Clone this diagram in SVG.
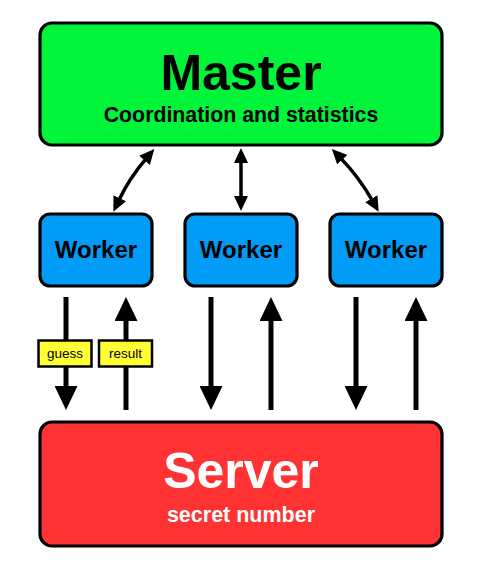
<svg xmlns="http://www.w3.org/2000/svg" width="482" height="570" viewBox="0 0 482 570">
<style>
  .box { stroke: #000; stroke-width: 3.2; }
  .t { font-family: "Liberation Sans", Arial, sans-serif; font-weight: bold; text-anchor: middle; }
  .lbl { font-family: "Liberation Sans", Arial, sans-serif; font-size: 13.5px; text-anchor: middle; fill: #000; }
  .lblbox { fill: #ffff33; stroke: #000; stroke-width: 2.5; }
  .big { fill: none; stroke: #000; stroke-width: 5; marker-end: url(#bigHead); }
  .small { fill: none; stroke: #000; stroke-width: 3.5; marker-start: url(#smallHead); marker-end: url(#smallHead); }
</style>
<defs>
  <marker id="bigHead" markerUnits="userSpaceOnUse" markerWidth="24" markerHeight="23" refX="4" refY="11.5" orient="auto">
    <path d="M0,0 L24,11.5 L0,23 z" fill="#000"/>
  </marker>
  <marker id="smallHead" markerUnits="userSpaceOnUse" markerWidth="15" markerHeight="14" refX="3" refY="7" orient="auto-start-reverse">
    <path d="M0,0 L15,7 L0,14 z" fill="#000"/>
  </marker>
</defs>
<rect width="482" height="570" fill="#fff"/>

<g id="connectors">
  <path class="small" d="M118.5,200.9 Q129.6,177.7 146.5,158.1"/>
  <path class="small" d="M241,160 L241,199"/>
  <path class="small" d="M340.2,157.6 Q359.3,177.3 372.8,201.4"/>

  <path class="big" d="M66,297 L66,390"/>
  <path class="big" d="M126,410 L126,317"/>
  <path class="big" d="M211,297 L211,390"/>
  <path class="big" d="M271,410 L271,317"/>
  <path class="big" d="M356,297 L356,390"/>
  <path class="big" d="M416,410 L416,317"/>

  <g id="label-guess">
    <rect class="lblbox" x="38.5" y="340.5" width="53" height="26"/>
    <text class="lbl" x="65" y="358">guess</text>
  </g>
  <g id="label-result">
    <rect class="lblbox" x="99" y="340.5" width="53" height="26"/>
    <text class="lbl" x="125.5" y="358">result</text>
  </g>
</g>

<g id="master">
  <rect class="box" x="40" y="23" width="402" height="122" rx="12" fill="#00f53a"/>
  <text class="t" x="241" y="90" font-size="50" fill="#000">Master</text>
  <text class="t" x="241" y="122" font-size="21.3" fill="#000">Coordination and statistics</text>
</g>

<g id="worker1">
  <rect class="box" x="40" y="214" width="112" height="72" rx="10" fill="#009cf7"/>
  <text class="t" x="96" y="258" font-size="24" fill="#000">Worker</text>
</g>
<g id="worker2">
  <rect class="box" x="185" y="214" width="112" height="72" rx="10" fill="#009cf7"/>
  <text class="t" x="241" y="258" font-size="24" fill="#000">Worker</text>
</g>
<g id="worker3">
  <rect class="box" x="330" y="214" width="112" height="72" rx="10" fill="#009cf7"/>
  <text class="t" x="386" y="258" font-size="24" fill="#000">Worker</text>
</g>

<g id="server">
  <rect class="box" x="40" y="422" width="402" height="124" rx="12" fill="#ff3333"/>
  <text class="t" x="241" y="488" font-size="50" fill="#fff">Server</text>
  <text class="t" x="241" y="522" font-size="21.5" fill="#fff">secret number</text>
</g>
</svg>
